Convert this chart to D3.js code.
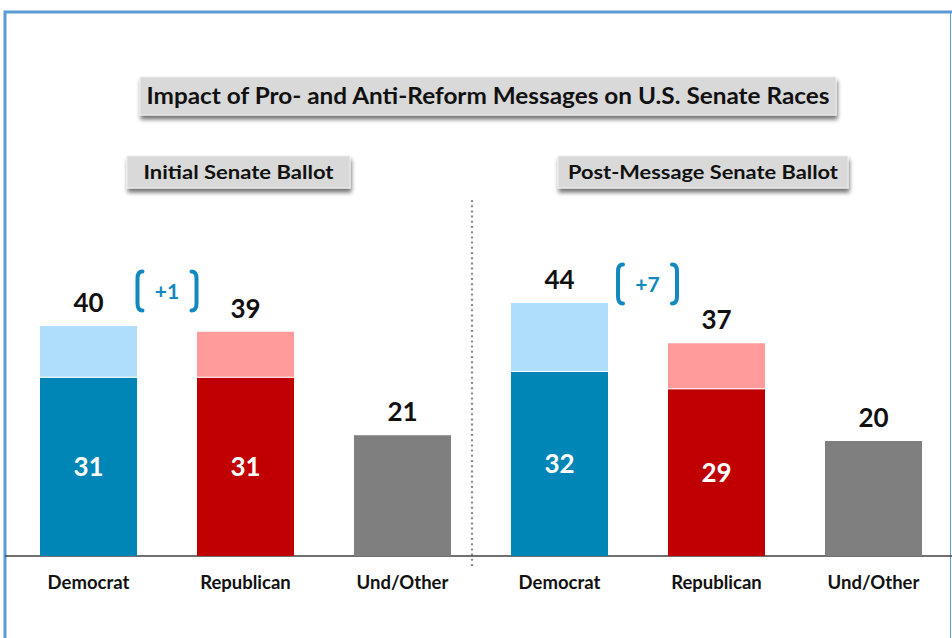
<!DOCTYPE html>
<html>
<head>
<meta charset="utf-8">
<script src="https://cdn.jsdelivr.net/npm/d3@7"></script>
<style>
  html, body { margin: 0; padding: 0; background: #fff; }
  svg { display: block; }
</style>
</head>
<body>
<svg id="chart" width="952" height="638"></svg>
<script>
// ---- Data ----
const chartTitle = "Impact of Pro- and Anti-Reform Messages on U.S. Senate Races";
const panels = ["Initial Senate Ballot", "Post-Message Senate Ballot"];
const categories = ["Democrat", "Republican", "Und/Other"];
const totalValues = [[40, 39, 21], [44, 37, 20]];      // total incl. leaners
const baseValues = [[31, 31, null], [32, 29, null]];   // firm (dark) portion
const marginLabels = ["+1", "+7"];

// ---- Styles ----
const darkColors = ["#0086B6", "#C00000", "#7F7F7F"];
const lightColors = ["#AEDEFC", "#FF9B9B", "#7F7F7F"];
const accent = "#1189C0";
const font = "Lato, 'Open Sans', sans-serif";

const svg = d3.select("#chart");
const defs = svg.append("defs");
const f = defs.append("filter").attr("id", "shadow")
  .attr("x", "-5%").attr("y", "-30%").attr("width", "110%").attr("height", "180%");
f.append("feDropShadow").attr("dx", 1).attr("dy", 4).attr("stdDeviation", 2)
  .attr("flood-color", "#000").attr("flood-opacity", 0.55);

// Frame
svg.append("path").attr("d", "M5,638 V12 H952").attr("fill", "none")
  .attr("stroke", "#5B9BD5").attr("stroke-width", 3);
svg.append("line").attr("x1", 950.5).attr("x2", 950.5).attr("y1", 12).attr("y2", 638)
  .attr("stroke", "#5B9BD5").attr("stroke-width", 1);

// Scales
const baseline = 556;
const y = d3.scaleLinear().domain([0, 50]).range([baseline, baseline - 287.5]);
const xPanel = d3.scaleBand().domain(d3.range(panels.length)).range([10, 952]);
const xCat = d3.scaleBand().domain(categories).range([0, xPanel.bandwidth()])
  .paddingInner(0.382).paddingOuter(0.191);

// Title box
function labelBox(cx, yTop, w, h, text, size, tlen) {
  const g = svg.append("g");
  g.append("rect").attr("x", cx - w / 2).attr("y", yTop).attr("width", w).attr("height", h)
    .attr("fill", "#D9D9D9").attr("stroke", "#EDEDED").attr("stroke-width", 1)
    .attr("filter", "url(#shadow)");
  g.append("text").attr("x", cx).attr("y", yTop + h / 2).attr("dy", "0.36em")
    .attr("text-anchor", "middle").attr("font-family", font).attr("font-weight", 700)
    .attr("font-size", size).attr("fill", "#111")
    .attr("textLength", tlen).attr("lengthAdjust", "spacingAndGlyphs")
    .text(text);
}
labelBox(488, 77, 696, 38, chartTitle, 23.5, 683);
labelBox(238.5, 156, 223, 32, panels[0], 19.5, 190);
labelBox(703, 156, 290, 32, panels[1], 19.5, 270);

// Divider
svg.append("line").attr("x1", 472).attr("x2", 472).attr("y1", 200).attr("y2", 567)
  .attr("stroke", "#8C8C8C").attr("stroke-width", 2.2).attr("stroke-dasharray", "2,3.2");

// Axis baseline
svg.append("line").attr("x1", 5).attr("x2", 952).attr("y1", baseline).attr("y2", baseline)
  .attr("stroke", "#404040").attr("stroke-width", 1.5);

// Bars
panels.forEach((p, pi) => {
  const g = svg.append("g").attr("transform", `translate(${xPanel(pi)},0)`);
  const rows = categories.map((c, ci) => ({c, ci, total: totalValues[pi][ci], base: baseValues[pi][ci]}));

  g.selectAll("rect.total").data(rows).join("rect").attr("class", "total")
    .attr("x", d => xCat(d.c)).attr("width", xCat.bandwidth())
    .attr("y", d => y(d.total)).attr("height", d => y(0) - y(d.total))
    .attr("fill", d => lightColors[d.ci]);

  const based = rows.filter(d => d.base != null);
  g.selectAll("rect.base").data(based).join("rect").attr("class", "base")
    .attr("x", d => xCat(d.c)).attr("width", xCat.bandwidth())
    .attr("y", d => y(d.base)).attr("height", d => y(0) - y(d.base))
    .attr("fill", d => darkColors[d.ci]);
  g.selectAll("line.sep").data(based).join("line").attr("class", "sep")
    .attr("x1", d => xCat(d.c)).attr("x2", d => xCat(d.c) + xCat.bandwidth())
    .attr("y1", d => y(d.base) - 0.5).attr("y2", d => y(d.base) - 0.5)
    .attr("stroke", "#fff").attr("stroke-width", 1);

  // Total labels
  g.selectAll("text.total").data(rows).join("text").attr("class", "total")
    .attr("x", d => xCat(d.c) + xCat.bandwidth() / 2).attr("y", d => y(d.total) - 14)
    .attr("text-anchor", "middle").attr("font-family", font).attr("font-weight", 700)
    .attr("font-size", 26).attr("fill", "#111").text(d => d.total);

  // Base labels
  g.selectAll("text.base").data(based).join("text").attr("class", "base")
    .attr("x", d => xCat(d.c) + xCat.bandwidth() / 2).attr("y", d => (y(d.base) + y(0)) / 2)
    .attr("dy", "0.36em").attr("text-anchor", "middle").attr("font-family", font)
    .attr("font-weight", 700).attr("font-size", 26).attr("fill", "#fff").text(d => d.base);

  // Category labels
  g.selectAll("text.cat").data(rows).join("text").attr("class", "cat")
    .attr("x", d => xCat(d.c) + xCat.bandwidth() / 2).attr("y", baseline + 33)
    .attr("text-anchor", "middle").attr("font-family", font).attr("font-weight", 700)
    .attr("font-size", 18.5).attr("fill", "#111").text(d => d.c);
});

// Margin brackets
const bracketPos = [{cx: 167, cy: 291}, {cx: 647.5, cy: 284}];
bracketPos.forEach((b, i) => {
  const g = svg.append("g").attr("transform", `translate(${b.cx},${b.cy})`);
  const hw = 29.5, hh = 19.5, c = 5;
  g.append("path")
    .attr("d", `M${-hw + c},${-hh} Q${-hw},${-hh} ${-hw},${-hh + c + 2} V${hh - c - 2} Q${-hw},${hh} ${-hw + c},${hh}`)
    .attr("fill", "none").attr("stroke", accent).attr("stroke-width", 4).attr("stroke-linecap", "round");
  g.append("path")
    .attr("d", `M${hw - c},${-hh} Q${hw},${-hh} ${hw},${-hh + c + 2} V${hh - c - 2} Q${hw},${hh} ${hw - c},${hh}`)
    .attr("fill", "none").attr("stroke", accent).attr("stroke-width", 4).attr("stroke-linecap", "round");
  g.append("text").attr("x", 0).attr("y", 0).attr("dy", "0.36em").attr("text-anchor", "middle")
    .attr("font-family", font).attr("font-weight", 700).attr("font-size", 21)
    .attr("fill", accent).text(marginLabels[i]);
});
</script>
</body>
</html>
